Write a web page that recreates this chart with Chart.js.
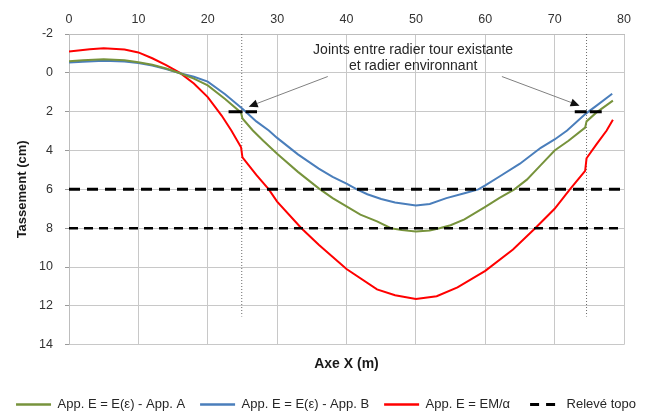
<!DOCTYPE html>
<html>
<head>
<meta charset="utf-8">
<script src="https://cdn.jsdelivr.net/npm/chart.js@4"></script>
<style>
  html, body { margin: 0; padding: 0; background: #fff; }
  #chart { display: block; }
</style>
</head>
<body>
<canvas id="chart" width="652" height="412"></canvas>
<script>
// Tassement le long de l'axe X, trois approches + relevé topo
const xTickValues = [0, 10, 20, 30, 40, 50, 60, 70, 80];
const yTickValues = [-2, 0, 2, 4, 6, 8, 10, 12, 14];

const seriesNames = ['App. E = E(ε) - App. A', 'App. E = E(ε) - App. B', 'App. E = EM/α', 'Relevé topo'];

const xAppA = [0, 2, 5, 8, 10, 12, 14, 16, 18, 20, 22.5, 24.8, 25, 26.5, 28, 30, 33, 36, 38, 40, 42, 44.4, 46.4, 48, 50, 52, 53.4, 55, 57, 60, 62, 64.2, 66, 68, 70, 72, 74.4, 74.6, 76, 78.4];
const yAppA = [-0.6, -0.65, -0.7, -0.65, -0.55, -0.42, -0.22, 0.02, 0.3, 0.65, 1.35, 2.05, 2.35, 2.97, 3.5, 4.17, 5.1, 5.95, 6.45, 6.88, 7.3, 7.65, 8.0, 8.1, 8.17, 8.12, 8.0, 7.85, 7.55, 6.9, 6.45, 6.0, 5.5, 4.75, 4.0, 3.5, 2.82, 2.5, 2.05, 1.43];

const xAppB = [0, 2, 5, 8, 10, 12, 14, 16, 18, 20, 22.5, 25, 27, 28.8, 30, 33, 36, 38, 40, 41.5, 43, 45, 47, 50, 52, 54.4, 57, 59, 60, 62, 65, 68, 70, 71.8, 74.5, 76, 78.3];
const yAppB = [-0.53, -0.57, -0.62, -0.58, -0.5, -0.38, -0.2, 0.02, 0.2, 0.45, 1.1, 1.85, 2.5, 2.97, 3.35, 4.2, 4.93, 5.36, 5.7, 6.0, 6.25, 6.5, 6.68, 6.83, 6.75, 6.45, 6.2, 6.0, 5.8, 5.35, 4.68, 3.86, 3.43, 2.97, 2.1, 1.7, 1.08];

const xEM = [0, 3, 5, 8, 10, 12, 14, 16, 18, 20, 22, 23.4, 24.8, 25, 27, 28.8, 30, 33.5, 36, 40, 44.4, 47, 50, 53, 56, 60, 64, 67.2, 70, 72.2, 74.4, 74.6, 76, 77.5, 78.4];
const yEM = [-1.1, -1.22, -1.27, -1.2, -1.05, -0.75, -0.4, 0, 0.55, 1.25, 2.2, 2.97, 3.83, 4.35, 5.25, 6.0, 6.63, 8.0, 8.85, 10.1, 11.15, 11.45, 11.65, 11.5, 11.05, 10.2, 9.1, 8.0, 7.0, 6.0, 5.05, 4.4, 3.7, 2.97, 2.42];

// relevé topo : tassements mesurés (cm) et points relevés aux joints
const releveX = [0, 80];
const releveMax = 6;
const releveMin = 8;
const jointLeftX = [23, 27.1];
const jointRightX = [72.9, 76.9];
const jointY = 2;

// position des joints (m) et étendue des repères verticaux
const jointsX = [24.9, 74.6];
const jointMarkY = [-2, 12.55];

// annotation : texte et flèches en unités du graphique
const noteLines = ['Joints entre radier tour existante', 'et radier environnant'];
const noteX = 49.6;
const noteY = [-1.15, -0.32];
const arrowTails = [[37.3, 0.19], [62.4, 0.19]];
const arrowHeads = [[25.9, 1.74], [73.6, 1.69]];

const GREEN = '#77933c';
const BLUE = '#4a7ebb';
const RED = '#ff0000';
const FONT = "'Liberation Sans', Arial, sans-serif";

const pts = (xs, ys) => xs.map((x, i) => ({ x, y: ys[i] }));
const flat = (xs, y) => xs.map(x => ({ x, y }));

const curve = (label, xs, ys, color) => ({
  label, data: pts(xs, ys), borderColor: color, backgroundColor: color,
  borderWidth: 2, pointRadius: 0, tension: 0
});
const dashed = (label, data, width, dash) => ({
  label, data, borderColor: '#000', backgroundColor: '#000',
  borderWidth: width, borderDash: dash, pointRadius: 0, order: -1
});

const datasets = [
  curve(seriesNames[0], xAppA, yAppA, GREEN),
  curve(seriesNames[1], xAppB, yAppB, BLUE),
  curve(seriesNames[2], xEM, yEM, RED),
  dashed(seriesNames[3], flat(releveX, releveMax), 3, [11, 7]),
  dashed('releve8', flat(releveX, releveMin), 2.5, [9, 6]),
  dashed('jointG', flat(jointLeftX, jointY), 3, [14, 3]),
  dashed('jointD', flat(jointRightX, jointY), 3, [12, 3]),
  ...jointsX.map((x, i) => ({
    label: 'repere' + i, data: jointMarkY.map(y => ({ x, y })),
    borderColor: '#6b6b6b', borderWidth: 1, borderDash: [1, 2], pointRadius: 0
  }))
];

// texte et flèches vers les joints
const notePlugin = {
  id: 'notes',
  afterDatasetsDraw(chart) {
    const { ctx, scales: { x, y } } = chart;
    ctx.save();
    ctx.font = '14px ' + FONT;
    ctx.textAlign = 'center';
    ctx.textBaseline = 'middle';
    ctx.fillStyle = '#262626';
    noteLines.forEach((t, i) => ctx.fillText(t, x.getPixelForValue(noteX), y.getPixelForValue(noteY[i])));
    arrowTails.forEach((tail, i) => {
      const x0 = x.getPixelForValue(tail[0]), y0 = y.getPixelForValue(tail[1]);
      const x1 = x.getPixelForValue(arrowHeads[i][0]), y1 = y.getPixelForValue(arrowHeads[i][1]);
      const a = Math.atan2(y1 - y0, x1 - x0);
      const len = 9, half = 4;
      const bx = x1 - len * Math.cos(a), by = y1 - len * Math.sin(a);
      ctx.strokeStyle = '#808080';
      ctx.lineWidth = 1;
      ctx.beginPath();
      ctx.moveTo(x0, y0);
      ctx.lineTo(bx, by);
      ctx.stroke();
      ctx.fillStyle = '#111';
      ctx.beginPath();
      ctx.moveTo(x1, y1);
      ctx.lineTo(bx + half * Math.sin(a), by - half * Math.cos(a));
      ctx.lineTo(bx - half * Math.sin(a), by + half * Math.cos(a));
      ctx.closePath();
      ctx.fill();
    });
    ctx.restore();
  }
};

new Chart(document.getElementById('chart'), {
  type: 'line',
  data: { datasets },
  options: {
    responsive: false,
    animation: false,
    // bas négatif : la légende descend vers le bord du canvas
    layout: { padding: { left: 0, right: 0, top: 0, bottom: -9 } },
    plugins: {
      tooltip: { enabled: false },
      title: {
        display: true, text: 'Axe X (m)', position: 'bottom', fullSize: false, weight: 500,
        color: '#1a1a1a', font: { family: FONT, size: 14, weight: 'bold' },
        padding: { top: 11.5, bottom: 10 }
      },
      legend: {
        position: 'bottom',
        labels: {
          usePointStyle: true, pointStyle: 'line', pointStyleWidth: 35,
          color: '#262626', font: { family: FONT, size: 13 }, padding: 15,
          generateLabels(chart) {
            return chart.data.datasets.slice(0, 4).map((d, i) => ({
              text: d.label, datasetIndex: i, pointStyle: 'line',
              strokeStyle: d.borderColor, fillStyle: d.borderColor,
              lineWidth: i === 3 ? 3 : 2.5,
              lineDash: i === 3 ? [9, 7] : [], lineDashOffset: i === 3 ? 11 : 0,
              fontColor: '#262626', hidden: false
            }));
          }
        }
      }
    },
    scales: {
      x: {
        type: 'linear', position: 'top', min: 0, max: 80,
        afterBuildTicks: s => { s.ticks = xTickValues.map(v => ({ value: v })); },
        afterFit: s => { s.height = 34; },
        grid: { color: '#c8c8c8', drawTicks: false },
        border: { color: '#bdbdbd' },
        ticks: { color: '#333', padding: 7, font: { family: FONT, size: 12.5 } }
      },
      y: {
        min: -2, max: 14, reverse: true,
        afterBuildTicks: s => { s.ticks = yTickValues.map(v => ({ value: v })); },
        afterFit: s => { s.width = 69; },
        grid: { color: '#c8c8c8', tickLength: 4, tickColor: '#9a9a9a' },
        border: { color: '#bdbdbd' },
        ticks: { color: '#333', padding: 12, font: { family: FONT, size: 12.5 } },
        title: {
          display: true, text: 'Tassement (cm)', color: '#1a1a1a',
          font: { family: FONT, size: 13, weight: 'bold' }, padding: { top: 15, bottom: 0 }
        }
      },
      yRight: {
        position: 'right', min: -2, max: 14, display: true,
        afterFit: s => { s.width = 28; },
        grid: { display: false }, border: { display: false }, ticks: { display: false }
      }
    }
  },
  plugins: [notePlugin]
});
</script>
</body>
</html>
